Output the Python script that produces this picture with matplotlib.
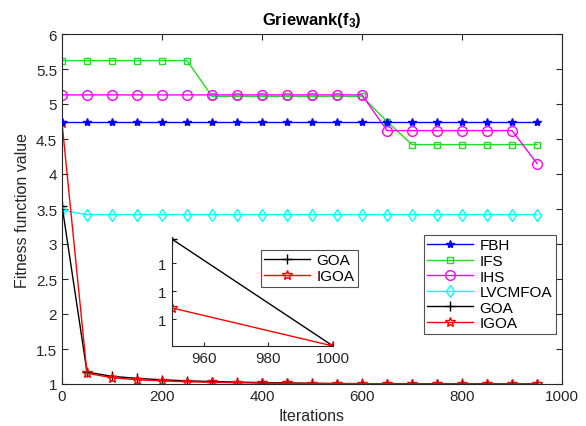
import matplotlib
matplotlib.use("Agg")
import matplotlib.pyplot as plt
import numpy as np

plt.rcParams['font.family'] = ['Liberation Sans', 'DejaVu Sans']
plt.rcParams['mathtext.fontset'] = 'custom'
plt.rcParams['mathtext.rm'] = 'Liberation Sans:bold'
plt.rcParams['mathtext.it'] = 'Liberation Sans:bold'
plt.rcParams['mathtext.bf'] = 'Liberation Sans:bold'

iters = list(range(0, 1000, 50))
fbh = [4.74] * 20
ifs = [5.62] * 6 + [5.11] * 7 + [4.75] + [4.42] * 6
ihs = [5.13] * 13 + [4.62] * 6 + [4.15]
lvcmfoa = [3.48] + [3.42] * 19
goa = [3.55, 1.17, 1.11, 1.08, 1.06, 1.045, 1.035, 1.027, 1.02, 1.015, 1.01,
       1.007, 1.005, 1.004, 1.003, 1.002, 1.001, 1.001, 1.0005, 1.0003]
igoa = [4.73, 1.153, 1.09, 1.06, 1.045, 1.032, 1.024, 1.018, 1.013, 1.01, 1.007,
        1.005, 1.004, 1.003, 1.002, 1.001, 1.001, 1.0005, 1.0003, 1.0002]

inset_iters = [950, 1000]
inset_goa = [1.0000386, 1.0000004]
inset_igoa = [1.0000140, 1.0000004]
inset_yticks = [1.00001, 1.00002, 1.00003]

fig = plt.figure(figsize=(5.86, 4.27), dpi=100)
ax = fig.add_axes([62/586, 1-385/427, 500/586, 350/427])

edge = '#262626'
ax.plot(iters, fbh, color='#0000ff', marker='*', ms=6, lw=1, label='FBH', zorder=3)
ax.plot(iters, ifs, color='#22dd22', marker='s', ms=5, mfc='none', lw=1, label='IFS', zorder=2)
ax.plot(iters, ihs, color='#ff00ff', marker='o', ms=7, mfc='none', lw=1, label='IHS', zorder=2)
ax.plot(iters, lvcmfoa, color='#00ffff', marker='d', ms=6, mfc='none', lw=1, label='LVCMFOA')
ax.plot(iters, goa, color='black', marker='+', ms=7, lw=1, label='GOA')
ax.plot(iters, igoa, color='red', marker='*', ms=7, mfc='none', lw=1, label='IGOA')

ax.set_xlim(0, 1000)
ax.set_ylim(1, 6)
ax.set_yticks(np.arange(1, 6.01, 0.5))
ax.set_yticklabels(['1', '1.5', '2', '2.5', '3', '3.5', '4', '4.5', '5', '5.5', '6'])
ax.set_xticks([0, 200, 400, 600, 800, 1000])
ax.tick_params(direction='in', top=True, right=True, labelsize=11, colors=edge, length=4)
for s in ax.spines.values():
    s.set_color(edge)
ax.set_xlabel('Iterations', fontsize=11.5, color=edge)
ax.set_ylabel('Fitness function value', fontsize=11.5, color=edge)
ax.set_title(r'Griewank(f$_3$)', fontsize=12, fontweight='bold', pad=7)

leg = ax.legend(loc='upper left', bbox_to_anchor=(416/586, 1-228/427),
                bbox_transform=fig.transFigure, fontsize=11, frameon=True,
                fancybox=False, edgecolor=edge, handlelength=3.0,
                borderpad=0.25, labelspacing=0.1, handletextpad=0.4)
leg.get_frame().set_linewidth(0.8)

ins = fig.add_axes([171.7/586, 1-347/427, (333-171.7)/586, 109/427])
ins.plot(inset_iters, inset_goa, color='black', marker='+', ms=7, lw=1, label='GOA')
ins.plot(inset_iters, inset_igoa, color='red', marker='*', ms=7, mfc='none', lw=1, label='IGOA')
ins.set_xlim(950, 1000)
ins.set_ylim(1.0000004, 1.0000393)
ins.set_xticks([960, 980, 1000])
ins.set_yticks(inset_yticks)
ins.set_yticklabels(['1', '1', '1'])
ins.spines['top'].set_visible(False)
ins.spines['right'].set_visible(False)
for s in ins.spines.values():
    s.set_color(edge)
ins.tick_params(direction='in', labelsize=11, colors=edge, length=3)
ins.patch.set_alpha(0)
leg2 = ins.legend(loc='upper left', bbox_to_anchor=(253/586, 1-243/427),
                  bbox_transform=fig.transFigure, fontsize=11, frameon=True,
                  fancybox=False, edgecolor=edge, handlelength=3.0,
                  borderpad=0.25, labelspacing=0.1, handletextpad=0.4)
leg2.get_frame().set_linewidth(0.8)

fig.savefig('out.png', dpi=100)
